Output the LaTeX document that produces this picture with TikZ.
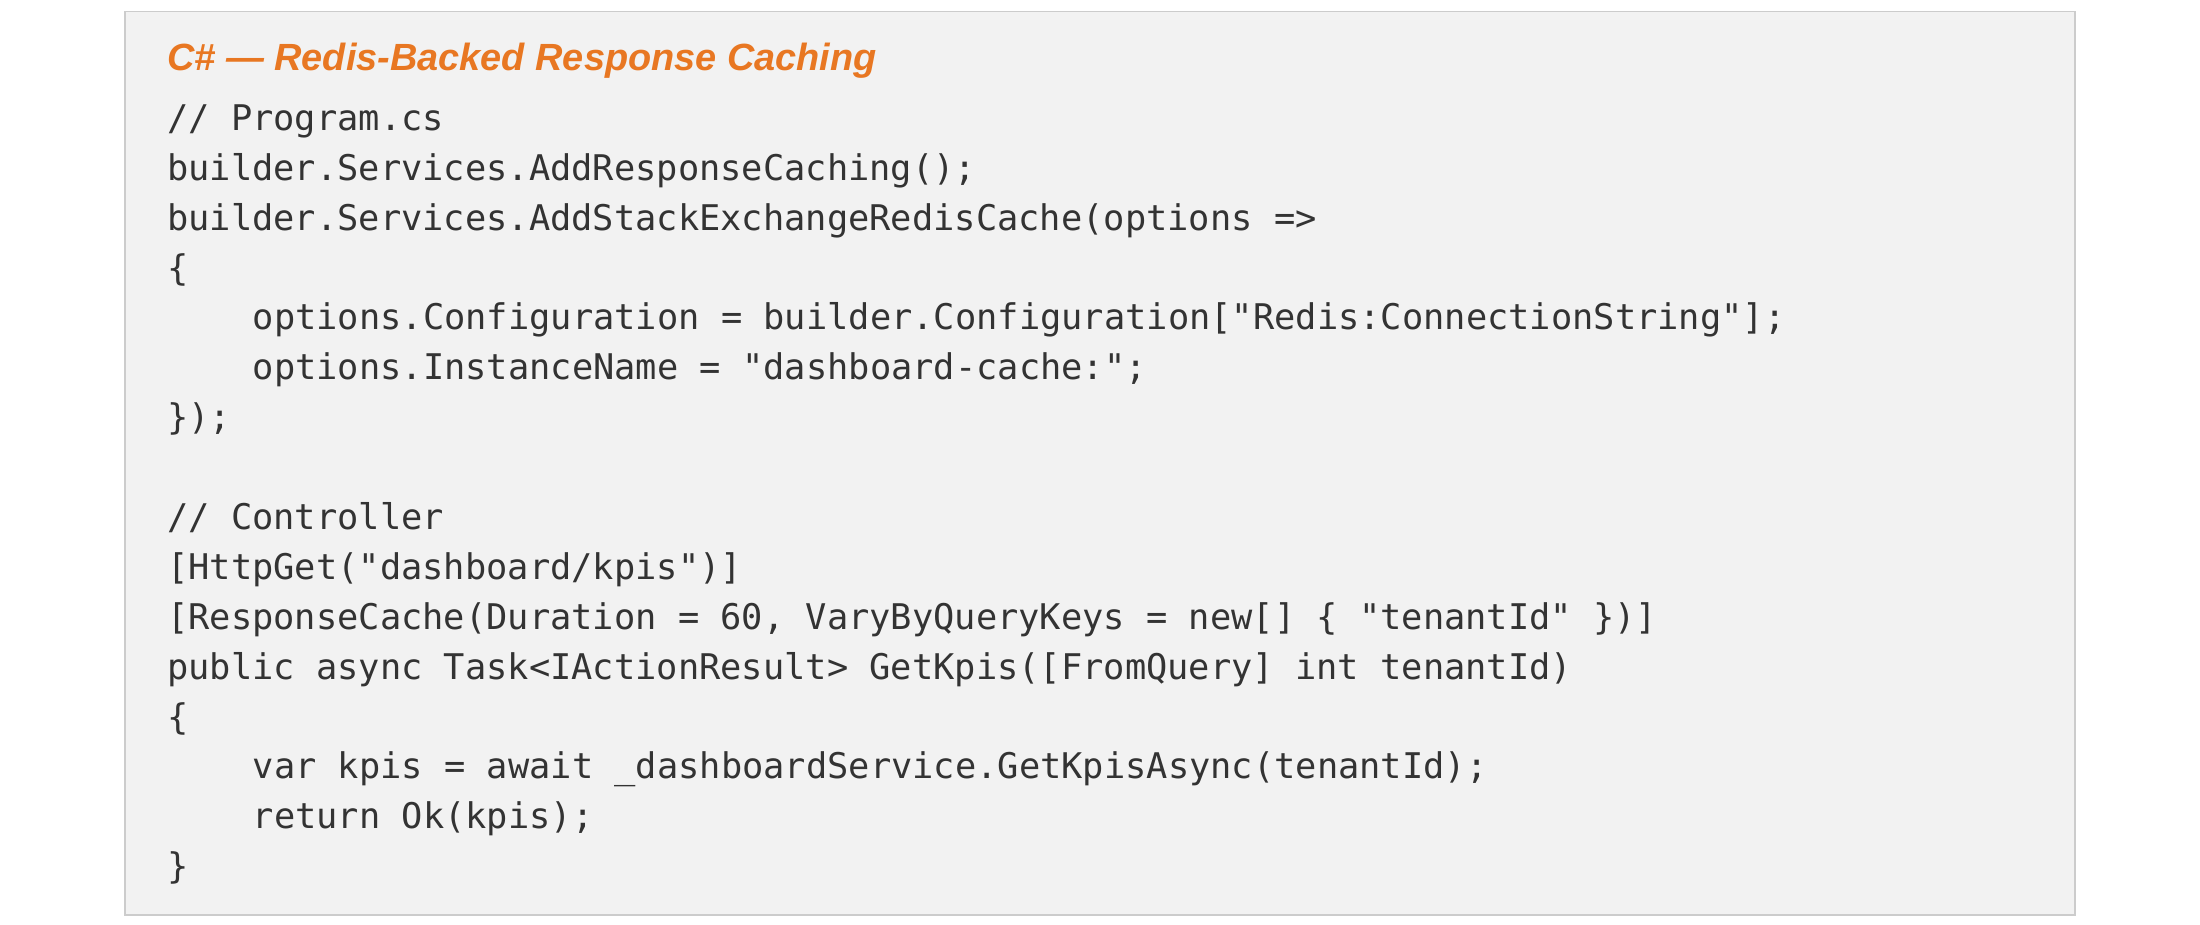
\documentclass[tikz,border=0pt]{standalone}
\usepackage{fontspec}
\setmainfont{Liberation Sans}
\setmonofont{DejaVu Sans Mono}
\definecolor{codebg}{HTML}{F2F2F2}
\definecolor{codeborder}{HTML}{CCCCCC}
\definecolor{codetext}{HTML}{333333}
\definecolor{titleorange}{HTML}{E87722}
\begin{document}
\begin{tikzpicture}[x=1pt,y=1pt,
  code/.style={anchor=base west,inner sep=0pt,font=\fontsize{25.2}{30}\selectfont\ttfamily,text=codetext},
  ttl/.style={anchor=base west,inner sep=0pt,font=\fontsize{27}{32}\selectfont\bfseries\itshape,text=titleorange}]
\useasboundingbox (0,0) rectangle (1568,659);
\draw[fill=codebg,draw=codeborder,line width=1pt] (89,7) rectangle (1479,651);
\node[ttl] (title) at (119,650-0-599+0) {};
\node[ttl] (t) at (119,659-50) {C\# — Redis-Backed Response Caching};
\node[code] (l0) at (119,659-93) {// Program.cs};
\node[code] (l1) at (119,659-128.6) {builder.Services.AddResponseCaching();};
\node[code] (l2) at (119,659-164.1) {builder.Services.AddStackExchangeRedisCache(options =>};
\node[code] (l3) at (119,659-199.7) {\{};
\node[code] (l4) at (180,659-235.2) {options.Configuration = builder.Configuration["Redis:ConnectionString"];};
\node[code] (l5) at (180,659-270.8) {options.InstanceName = "dashboard-cache:";};
\node[code] (l6) at (119,659-306.3) {\});};
\node[code] (l8) at (119,659-377.4) {// Controller};
\node[code] (l9) at (119,659-413.0) {[HttpGet("dashboard/kpis")]};
\node[code] (l10) at (119,659-448.5) {[ResponseCache(Duration = 60, VaryByQueryKeys = new[] \{ "tenantId" \})]};
\node[code] (l11) at (119,659-484.1) {public async Task<IActionResult> GetKpis([FromQuery] int tenantId)};
\node[code] (l12) at (119,659-519.6) {\{};
\node[code] (l13) at (180,659-555.2) {var kpis = await \_dashboardService.GetKpisAsync(tenantId);};
\node[code] (l14) at (180,659-590.7) {return Ok(kpis);};
\node[code] (l15) at (119,659-626.3) {\}};
\end{tikzpicture}
\end{document}
